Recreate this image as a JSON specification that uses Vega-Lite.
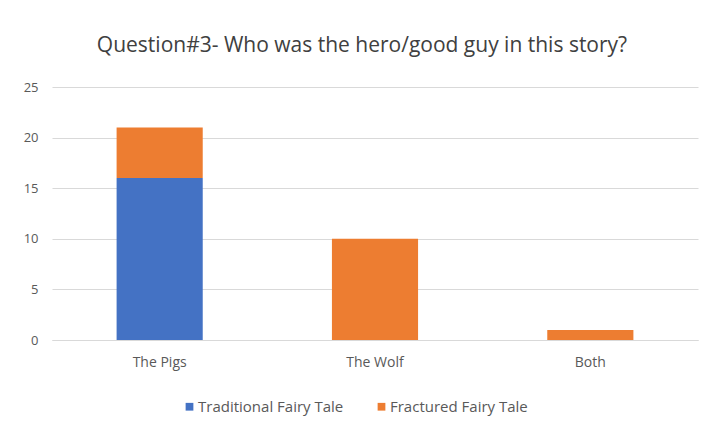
{
  "$schema": "https://vega.github.io/schema/vega-lite/v6.json",
  "width": 646,
  "height": 253,
  "autosize": {"type": "none"},
  "padding": {"left": 52, "top": 87, "right": 21, "bottom": 98},
  "background": "white",
  "title": {
    "text": "Question#3- Who was the hero/good guy in this story?",
    "font": "Open Sans",
    "fontSize": 21,
    "fontWeight": "normal",
    "color": "#404040",
    "anchor": "middle",
    "offset": 25,
    "dx": -13
  },
  "data": {
    "values": [
      {"answer": "The Pigs", "series": "Traditional Fairy Tale", "count": 16},
      {"answer": "The Pigs", "series": "Fractured Fairy Tale", "count": 5},
      {"answer": "The Wolf", "series": "Traditional Fairy Tale", "count": 0},
      {"answer": "The Wolf", "series": "Fractured Fairy Tale", "count": 10},
      {"answer": "Both", "series": "Traditional Fairy Tale", "count": 0},
      {"answer": "Both", "series": "Fractured Fairy Tale", "count": 1}
    ]
  },
  "mark": {"type": "bar"},
  "encoding": {
    "x": {
      "field": "answer",
      "type": "nominal",
      "sort": ["The Pigs", "The Wolf", "Both"],
      "scale": {"paddingInner": 0.6, "paddingOuter": 0.3},
      "axis": {
        "title": null,
        "labelAngle": 0,
        "ticks": false,
        "domain": true,
        "domainColor": "#d9d9d9",
        "labelFont": "Open Sans",
        "labelFontSize": 14,
        "labelColor": "#595959",
        "labelPadding": 15
      }
    },
    "y": {
      "field": "count",
      "type": "quantitative",
      "stack": "zero",
      "scale": {"domain": [0, 25]},
      "axis": {
        "title": null,
        "values": [0, 5, 10, 15, 20, 25],
        "ticks": false,
        "domain": false,
        "gridColor": "#d9d9d9",
        "labelFont": "Open Sans",
        "labelFontSize": 13,
        "labelColor": "#595959",
        "labelPadding": 14
      }
    },
    "color": {
      "field": "series",
      "type": "nominal",
      "scale": {
        "domain": ["Traditional Fairy Tale", "Fractured Fairy Tale"],
        "range": ["#4472C4", "#ED7D31"]
      },
      "legend": {
        "title": null,
        "orient": "none",
        "legendX": 130,
        "legendY": 312,
        "direction": "horizontal",
        "symbolType": "square",
        "symbolSize": 60,
        "symbolStrokeWidth": 0,
        "labelFont": "Open Sans",
        "labelFontSize": 15,
        "labelColor": "#595959",
        "columnPadding": 30,
        "labelOffset": 1
      }
    },
    "order": {"field": "series", "sort": "descending"}
  },
  "config": {
    "view": {"stroke": null}
  }
}
